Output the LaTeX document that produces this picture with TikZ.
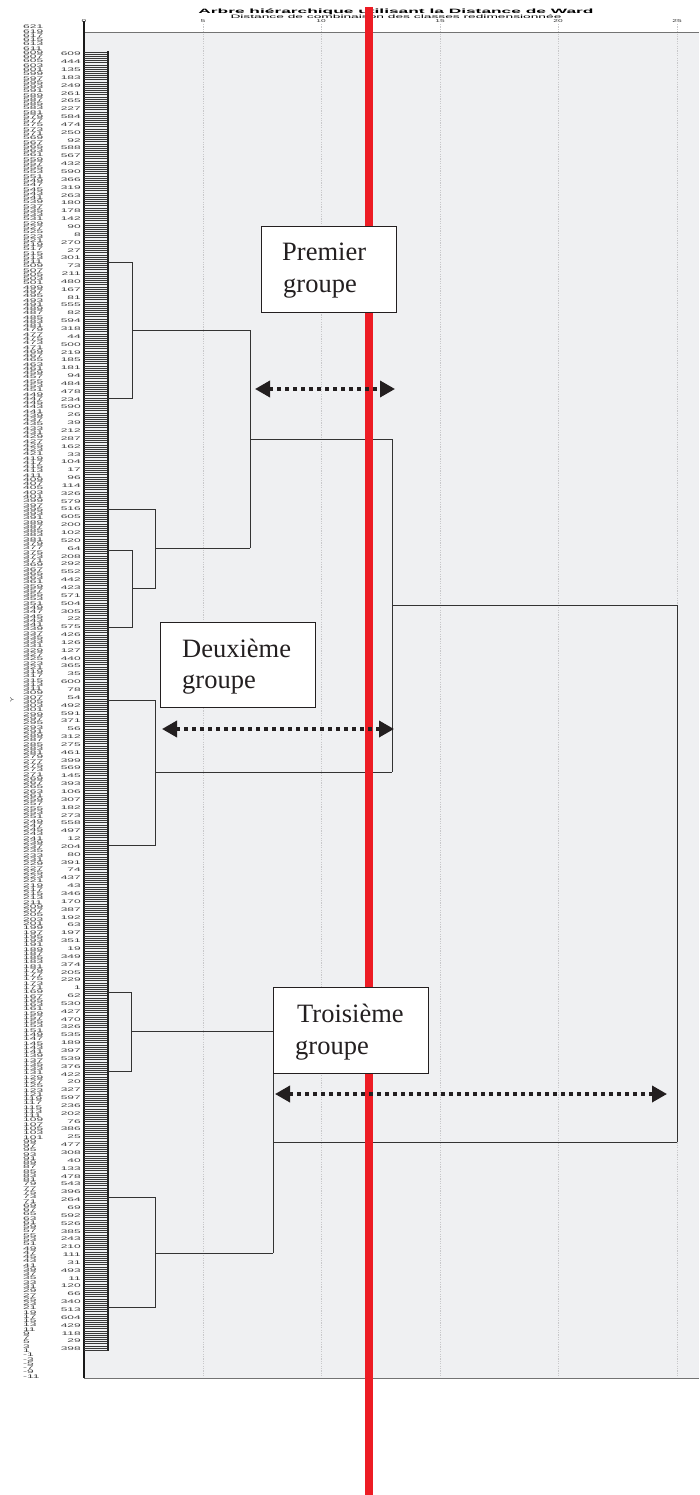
\documentclass[tikz,border=0pt]{standalone}
\usepackage{fontspec}
\usepackage{graphicx}
\setmainfont{Liberation Serif}
\setsansfont{Liberation Sans}
\usetikzlibrary{arrows.meta}
\definecolor{plotbg}{RGB}{239,240,242}
\definecolor{redline}{RGB}{237,28,36}
\definecolor{ink}{RGB}{35,31,32}
\definecolor{gridc}{RGB}{200,200,202}
\newcommand\smalllab[1]{\scalebox{2.3}[1]{\fontsize{5.2}{5.2}\selectfont\sffamily #1}}
\tikzset{
  lab1/.style={anchor=west,inner sep=0pt,text=black!75},
  lab2/.style={anchor=east,inner sep=0pt,text=black!75},
  ticklab/.style={anchor=base,inner sep=0pt,text=black!80},
  leaf/.style={draw=black!78,line width=0.55pt},
  dendro/.style={draw=black!80,line width=1pt},
  gridl/.style={draw=gridc,line width=0.8pt,dash pattern=on 1.2pt off 1.2pt},
  gbox/.style={draw=ink,fill=white,line width=1.3pt,rectangle,inner sep=0pt,anchor=north west},
  gtext/.style={anchor=base west,inner sep=0pt,text=ink,font=\fontsize{26.5}{31}\selectfont},
  garrow/.style={draw=ink,line width=3.5pt,dash pattern=on 4pt off 4pt,
    {Triangle[length=15pt,width=16pt]}-{Triangle[length=15pt,width=16pt]}},
  redbar/.style={draw=redline,line width=8pt}
}
\begin{document}
\begin{tikzpicture}[x=1pt,y=-1pt]
\useasboundingbox (0,0) rectangle (699,1495);
% plot area
\fill[plotbg] (84,33) rectangle (699,1378);
\foreach \gx in {203,321,440,558,677} \draw[gridl] (\gx,24) -- (\gx,1378);
\draw[draw=black!55,line width=1pt] (84,33) -- (699,33);
\draw[draw=black!55,line width=1pt] (84,1378) -- (699,1378);
\draw[draw=black!90,line width=1.4pt] (84,21) -- (84,1378);
% title
\node[inner sep=0pt,anchor=base] (title) at (396,14) {\resizebox{395pt}{4.6pt}{\sffamily\bfseries Arbre hiérarchique utilisant la Distance de Ward}};
\node[inner sep=0pt,anchor=base] (subtitle) at (396,18.6) {\resizebox{331pt}{3.6pt}{\sffamily Distance de combinaison des classes redimensionnée}};
% ticks
\foreach \tv/\tx in {0/84,5/203,10/321,15/440,20/558,25/677}
  \node[ticklab] (tick-\tv) at (\tx,22.6) {\scalebox{2}[1]{\fontsize{4.2}{4.2}\selectfont\sffamily \tv}};
% y-axis mark
\node[inner sep=0pt,rotate=90,text=black!70] (ymark) at (12,700) {\scalebox{1.6}[1]{\fontsize{5}{5}\selectfont\sffamily Y}};
% column 1 labels
\foreach \k in {0,...,316} {
  \pgfmathtruncatemacro\vv{621-2*\k}
  \node[lab1] (ca-\k) at (23,{27+\k*4.27}) {\smalllab{\vv}};
}
% column 2 labels
\foreach \v [count=\i from 0] in {609,444,135,183,249,261,265,227,584,474,
250,92,588,567,432,590,366,319,263,180,
178,142,90,8,270,27,301,73,211,480,
167,81,555,82,594,318,44,500,219,185,
181,94,484,478,234,590,26,39,212,287,
162,33,104,17,96,114,326,579,516,605,
200,102,520,64,208,292,552,442,423,571,
504,305,22,575,426,126,127,440,365,35,
600,78,54,492,591,371,56,312,275,461,
399,569,145,393,106,307,182,273,558,497,
12,204,80,391,74,437,43,346,170,387,
192,63,197,351,19,349,374,205,229,1,
62,530,427,470,326,535,189,397,539,376,
422,20,327,597,236,202,76,386,25,477,
308,40,133,478,543,396,264,69,592,526,
385,243,210,111,31,493,11,120,66,340,
513,604,429,118,29,398}
  \node[lab2] (cb-\i) at (81,{54+\i*7.848}) {\smalllab{\v}};
% leaves
\foreach \i in {0,...,608} \draw[leaf] (84,{52+\i*2.135}) -- (108,{52+\i*2.135});
\draw[draw=black!85,line width=1.1pt] (108,51) -- (108,1351);
% dendrogram - group 1
\draw[dendro] (108,263) -- (132,263) -- (132,398) -- (108,398);
\draw[dendro] (132,330) -- (250,330);
\draw[dendro] (108,509) -- (155,509) -- (155,588) -- (132,588);
\draw[dendro] (108,550) -- (132,550) -- (132,627) -- (108,627);
\draw[dendro] (155,548) -- (250,548);
\draw[dendro] (250,330) -- (250,548);
\draw[dendro] (250,439) -- (392,439);
% group 2
\draw[dendro] (108,700) -- (155,700) -- (155,845) -- (108,845);
\draw[dendro] (155,772) -- (392,772);
\draw[dendro] (392,439) -- (392,772);
\draw[dendro] (392,605) -- (677,605);
\draw[dendro] (677,605) -- (677,1142);
% group 3
\draw[dendro] (108,992) -- (131,992) -- (131,1071) -- (108,1071);
\draw[dendro] (131,1031) -- (273,1031);
\draw[dendro] (108,1197) -- (155,1197) -- (155,1307) -- (108,1307);
\draw[dendro] (155,1253) -- (273,1253);
\draw[dendro] (273,1031) -- (273,1253);
\draw[dendro] (273,1142) -- (677,1142);
% red cut line
\coordinate (rtop) at (369,7);
\coordinate (rbot) at (369,1495);
\draw[redbar] (rtop) -- (rbot);
% group boxes
\node[gbox,minimum width=135pt,minimum height=86pt] (b1) at (261,226) {};
\node[gtext] (t1a) at (282,261) {Premier};
\node[gtext] (t1b) at (283,293) {groupe};
\node[gbox,minimum width=155pt,minimum height=85pt] (b2) at (160,622) {};
\node[gtext] (t2a) at (182,657) {Deuxième};
\node[gtext] (t2b) at (182,688) {groupe};
\node[gbox,minimum width=155pt,minimum height=86pt] (b3) at (273,987) {};
\node[gtext] (t3a) at (297,1022) {Troisième};
\node[gtext] (t3b) at (295,1054) {groupe};
% arrows
\coordinate (a1l) at (255,389); \coordinate (a1r) at (395,389);
\coordinate (a2l) at (162,729); \coordinate (a2r) at (394,729);
\coordinate (a3l) at (275,1094); \coordinate (a3r) at (667,1094);
\draw[garrow] (a1l) -- (a1r);
\draw[garrow] (a2l) -- (a2r);
\draw[garrow] (a3l) -- (a3r);
\end{tikzpicture}
\end{document}
